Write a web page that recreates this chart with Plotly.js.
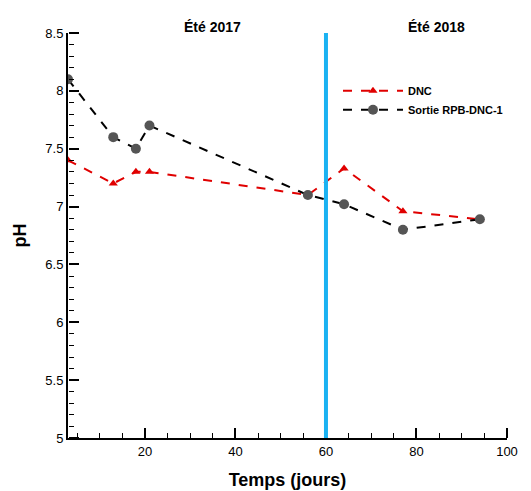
<!DOCTYPE html>
<html>
<head>
<meta charset="utf-8">
<script src="https://cdn.plot.ly/plotly-3.0.1.min.js"></script>
<style>html,body{margin:0;padding:0;background:#fff;}#chart{width:531px;height:491px;}</style>
</head>
<body>
<div id="chart"></div>
<script>
const daysDNC = [3, 13, 18, 21, 56, 64, 77, 94];
const phDNC = [7.4, 7.2, 7.3, 7.3, 7.1, 7.33, 6.96, 6.89];
const daysSortie = [3, 13, 18, 21, 56, 64, 77, 94];
const phSortie = [8.1, 7.6, 7.5, 7.7, 7.1, 7.02, 6.8, 6.89];
const seasonLabels = ["Été 2017", "Été 2018"];
const seasonX = [35, 84.5];
const separatorDay = 60;

const font = "Liberation Sans, Arial, sans-serif";
const xRange = [3, 100];
const yRange = [5, 8.5];

const carrier = (xa, ya) => ({x: daysDNC, y: phDNC, xaxis: xa, yaxis: ya, mode: "lines", type: "scatter",
  line: {width: 0, color: "rgba(0,0,0,0)"}, showlegend: false, hoverinfo: "skip"});

const traces = [
  {x: daysDNC, y: phDNC, name: "DNC", mode: "lines+markers", type: "scatter",
   line: {color: "#e00000", dash: "dash", width: 2},
   marker: {symbol: "triangle-up", size: 8, color: "#e00000"}},
  {x: daysSortie, y: phSortie, name: "Sortie RPB-DNC-1", mode: "lines+markers", type: "scatter",
   line: {color: "#000000", dash: "dash", width: 2},
   marker: {symbol: "circle", size: 10, color: "#555555"}},
  carrier("x2", "y2"),
  carrier("x3", "y3")
];

const axisCommon = {showgrid: false, zeroline: false, tickfont: {size: 13, family: font}};
// overlay axes whose "outside" ticks point into the plot area (major and minor tick marks)
const tickAxis = (extra) => Object.assign({}, axisCommon, {
  anchor: "free", position: 0, showline: false, showticklabels: false,
  ticks: "outside", tickcolor: "#000"
}, extra);

const layout = {
  width: 531, height: 491,
  margin: {l: 68, r: 24, t: 33, b: 53},
  paper_bgcolor: "#fff", plot_bgcolor: "#fff",
  font: {family: font, color: "#000"},
  showlegend: true,
  legend: {x: 0.615, y: 0.893, xanchor: "left", yanchor: "top", bgcolor: "rgba(0,0,0,0)",
           itemwidth: 60,
           font: {size: 11, family: font, weight: "bold"}, tracegroupgap: 0},
  xaxis: Object.assign({}, axisCommon, {
    range: xRange, dtick: 20, tick0: 0,
    showline: true, linecolor: "#000", linewidth: 2, ticks: "",
    title: {text: "Temps (jours)", font: {size: 18, family: font, weight: "bold"}, standoff: 16}
  }),
  yaxis: Object.assign({}, axisCommon, {
    range: yRange, dtick: 0.5, tick0: 5,
    showline: true, linecolor: "#000", linewidth: 2, ticks: "",
    title: {text: "pH", font: {size: 18, family: font, weight: "bold"}, standoff: 14}
  }),
  xaxis2: tickAxis({overlaying: "x", side: "top", range: xRange, dtick: 20, tick0: 0, ticklen: 10, tickwidth: 2}),
  yaxis2: tickAxis({overlaying: "y", side: "right", range: yRange, dtick: 0.5, tick0: 5, ticklen: 10, tickwidth: 2}),
  xaxis3: tickAxis({overlaying: "x", side: "top", range: xRange, dtick: 5, tick0: 0, ticklen: 5, tickwidth: 1}),
  yaxis3: tickAxis({overlaying: "y", side: "right", range: yRange, dtick: 0.1, tick0: 5, ticklen: 5, tickwidth: 1}),
  shapes: [
    {type: "line", xref: "x", yref: "paper", x0: separatorDay, x1: separatorDay, y0: 0, y1: 1,
     line: {color: "#1ab2f2", width: 4}}
  ],
  annotations: seasonLabels.map((t, i) => ({
    text: t, x: seasonX[i], xref: "x", y: 1.015, yref: "paper", yanchor: "middle",
    showarrow: false, font: {size: 14, family: font, weight: "bold"}
  }))
};

Plotly.newPlot("chart", traces, layout, {displayModeBar: false});
</script>
</body>
</html>
